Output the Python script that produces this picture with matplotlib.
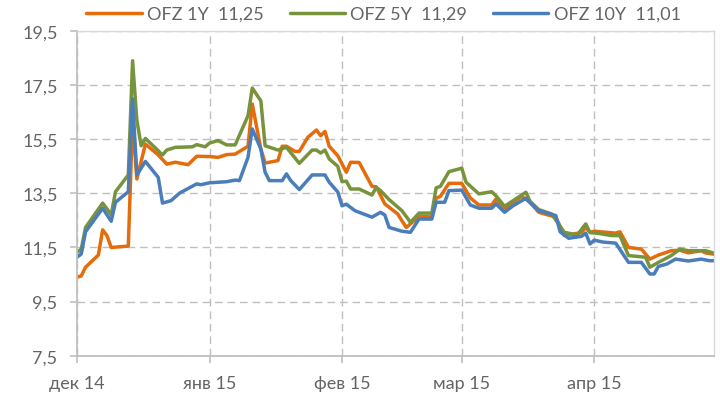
import pandas as pd
import matplotlib
matplotlib.use('Agg')
import matplotlib.pyplot as plt
from matplotlib.ticker import FuncFormatter

# OFZ 1Y yields
dates_1y = ['2014-12-01', '2014-12-02', '2014-12-03', '2014-12-06', '2014-12-07', '2014-12-08',
            '2014-12-09', '2014-12-13', '2014-12-14', '2014-12-15', '2014-12-17', '2014-12-20',
            '2014-12-22', '2014-12-24', '2014-12-27', '2014-12-29', '2015-01-01', '2015-01-03',
            '2015-01-05', '2015-01-07', '2015-01-10', '2015-01-11', '2015-01-13', '2015-01-14',
            '2015-01-17', '2015-01-18', '2015-01-19', '2015-01-21', '2015-01-22', '2015-01-24',
            '2015-01-26', '2015-01-27', '2015-01-28', '2015-01-29', '2015-01-31', '2015-02-02',
            '2015-02-03', '2015-02-05', '2015-02-08', '2015-02-09', '2015-02-11', '2015-02-14',
            '2015-02-16', '2015-02-19', '2015-02-22', '2015-02-23', '2015-02-24', '2015-02-26',
            '2015-03-01', '2015-03-03', '2015-03-05', '2015-03-08', '2015-03-09', '2015-03-11',
            '2015-03-15', '2015-03-17', '2015-03-19', '2015-03-23', '2015-03-25', '2015-03-29',
            '2015-03-30', '2015-03-31', '2015-04-01', '2015-04-06', '2015-04-07', '2015-04-09',
            '2015-04-12', '2015-04-14', '2015-04-16', '2015-04-19', '2015-04-21', '2015-04-23',
            '2015-04-26', '2015-04-27', '2015-04-29']
ofz_1y = [10.40, 10.45, 10.77, 11.22, 12.15, 11.94,
          11.50, 11.55, 16.20, 14.03, 15.32, 14.92,
          14.58, 14.65, 14.56, 14.87, 14.86, 14.83,
          14.93, 14.95, 15.24, 16.80, 15.14, 14.62,
          14.71, 15.24, 15.24, 15.05, 15.05, 15.57,
          15.84, 15.63, 15.79, 15.24, 14.89, 14.28,
          14.65, 14.64, 13.76, 13.74, 13.11, 12.74,
          12.24, 12.64, 12.64, 13.32, 13.39, 13.87,
          13.87, 13.33, 13.07, 13.07, 13.29, 12.92,
          13.39, 13.17, 12.80, 12.62, 11.94, 12.05,
          12.24, 12.06, 12.10, 12.03, 12.08, 11.50,
          11.44, 11.07, 11.22, 11.38, 11.40, 11.30,
          11.38, 11.30, 11.25]

# OFZ 5Y yields
dates_5y = ['2014-12-01', '2014-12-02', '2014-12-03', '2014-12-07', '2014-12-09', '2014-12-10',
            '2014-12-13', '2014-12-14', '2014-12-15', '2014-12-16', '2014-12-17', '2014-12-21',
            '2014-12-22', '2014-12-24', '2014-12-28', '2014-12-29', '2014-12-31', '2015-01-01',
            '2015-01-03', '2015-01-05', '2015-01-07', '2015-01-10', '2015-01-11', '2015-01-13',
            '2015-01-14', '2015-01-17', '2015-01-19', '2015-01-22', '2015-01-25', '2015-01-26',
            '2015-01-27', '2015-01-28', '2015-01-29', '2015-01-31', '2015-02-01', '2015-02-02',
            '2015-02-03', '2015-02-05', '2015-02-08', '2015-02-09', '2015-02-10', '2015-02-12',
            '2015-02-15', '2015-02-17', '2015-02-19', '2015-02-22', '2015-02-23', '2015-02-24',
            '2015-02-26', '2015-03-01', '2015-03-02', '2015-03-05', '2015-03-08', '2015-03-09',
            '2015-03-11', '2015-03-16', '2015-03-17', '2015-03-19', '2015-03-22', '2015-03-25',
            '2015-03-28', '2015-03-30', '2015-03-31', '2015-04-02', '2015-04-05', '2015-04-07',
            '2015-04-09', '2015-04-13', '2015-04-14', '2015-04-16', '2015-04-19', '2015-04-21',
            '2015-04-23', '2015-04-27', '2015-04-29']
ofz_5y = [11.32, 11.44, 12.24, 13.14, 12.71, 13.56,
          14.18, 18.40, 16.20, 15.26, 15.53, 14.92,
          15.10, 15.20, 15.22, 15.30, 15.22, 15.36,
          15.45, 15.29, 15.29, 16.37, 17.39, 16.92,
          15.26, 15.10, 15.20, 14.61, 15.10, 15.10,
          14.99, 15.10, 14.77, 14.50, 13.93, 13.95,
          13.66, 13.66, 13.44, 13.72, 13.60, 13.27,
          12.86, 12.43, 12.77, 12.77, 13.70, 13.76,
          14.30, 14.43, 13.91, 13.48, 13.56, 13.41,
          13.02, 13.54, 13.20, 12.90, 12.74, 12.06,
          11.96, 12.37, 12.05, 12.02, 11.94, 11.94,
          11.20, 11.14, 10.77, 10.95, 11.20, 11.44,
          11.38, 11.38, 11.29]

# OFZ 10Y yields
dates_10y = ['2014-12-01', '2014-12-02', '2014-12-03', '2014-12-07', '2014-12-09', '2014-12-10',
             '2014-12-13', '2014-12-14', '2014-12-15', '2014-12-17', '2014-12-20', '2014-12-21',
             '2014-12-23', '2014-12-25', '2014-12-29', '2014-12-30', '2015-01-01', '2015-01-05',
             '2015-01-07', '2015-01-08', '2015-01-10', '2015-01-11', '2015-01-13', '2015-01-14',
             '2015-01-15', '2015-01-18', '2015-01-19', '2015-01-20', '2015-01-22', '2015-01-25',
             '2015-01-28', '2015-01-29', '2015-01-31', '2015-02-01', '2015-02-02', '2015-02-04',
             '2015-02-08', '2015-02-10', '2015-02-11', '2015-02-12', '2015-02-15', '2015-02-17',
             '2015-02-19', '2015-02-22', '2015-02-23', '2015-02-25', '2015-02-26', '2015-03-01',
             '2015-03-03', '2015-03-05', '2015-03-08', '2015-03-09', '2015-03-11', '2015-03-13',
             '2015-03-16', '2015-03-17', '2015-03-19', '2015-03-23', '2015-03-24', '2015-03-26',
             '2015-03-29', '2015-03-30', '2015-03-31', '2015-04-01', '2015-04-03', '2015-04-06',
             '2015-04-09', '2015-04-12', '2015-04-14', '2015-04-15', '2015-04-16', '2015-04-18',
             '2015-04-20', '2015-04-23', '2015-04-26', '2015-04-28', '2015-04-29']
ofz_10y = [11.14, 11.26, 12.08, 12.95, 12.47, 13.17,
           13.56, 16.99, 14.18, 14.68, 14.09, 13.14,
           13.23, 13.51, 13.85, 13.82, 13.89, 13.93,
           13.99, 13.97, 14.83, 15.88, 15.14, 14.28,
           13.97, 13.97, 14.22, 13.97, 13.64, 14.18,
           14.18, 13.91, 13.55, 13.04, 13.10, 12.86,
           12.62, 12.80, 12.70, 12.24, 12.10, 12.06,
           12.55, 12.55, 13.17, 13.17, 13.60, 13.62,
           13.07, 12.95, 12.95, 13.11, 12.80, 13.04,
           13.32, 13.15, 12.86, 12.68, 12.08, 11.84,
           11.91, 12.03, 11.63, 11.77, 11.70, 11.66,
           10.95, 10.95, 10.52, 10.52, 10.80, 10.89,
           11.07, 11.00, 11.07, 11.01, 11.01]

series_labels = ['OFZ 1Y  11,25', 'OFZ 5Y  11,29', 'OFZ 10Y  11,01']
y_ticks = [7.5, 9.5, 11.5, 13.5, 15.5, 17.5, 19.5]
month_ticks = ['2014-12-01', '2015-01-01', '2015-02-01', '2015-03-01', '2015-04-01']
month_labels = ['дек 14', 'янв 15', 'фев 15', 'мар 15', 'апр 15']
x_range = ['2014-12-01', '2015-04-29']

colors = ['#E46C0A', '#77933C', '#4A7EBB']
text_color = '#646464'
grid_color = '#BFBFBF'

plt.rcParams['font.family'] = ['Lato', 'DejaVu Sans']

fig = plt.figure(figsize=(7.2, 4.06), dpi=100)
ax = fig.add_axes([77 / 720, 1 - 356.7 / 406, (714 - 77) / 720, (356.7 - 32) / 406])

all_dates = [dates_1y, dates_5y, dates_10y]
all_values = [ofz_1y, ofz_5y, ofz_10y]
for d, v, c, lab in zip(all_dates, all_values, colors, series_labels):
    ax.plot(pd.to_datetime(d), v, color=c, lw=2.5, label=lab,
            solid_joinstyle='round', solid_capstyle='round')

ax.set_ylim(y_ticks[0], y_ticks[-1])
ax.set_yticks(y_ticks)
ax.yaxis.set_major_formatter(FuncFormatter(lambda v, p: f'{v:.1f}'.replace('.', ',')))

ax.set_xlim(pd.to_datetime(x_range[0]), pd.to_datetime(x_range[1]))
ax.set_xticks(pd.to_datetime(month_ticks))
ax.set_xticklabels(month_labels)

ax.grid(True, color=grid_color, linestyle=(0, (5.5, 3.5)), linewidth=1.0)
ax.set_axisbelow(True)

for side in ['left', 'bottom']:
    ax.spines[side].set_color(grid_color)
    ax.spines[side].set_linewidth(1.3)
for side in ['top', 'right']:
    ax.spines[side].set_color('#D9D9D9')
    ax.spines[side].set_linewidth(1.0)

ax.tick_params(axis='both', colors=grid_color, labelcolor=text_color,
               labelsize=13, length=5, width=1.2)
ax.tick_params(axis='x', pad=9)
ax.tick_params(axis='y', pad=9)

fig.legend(loc='center left', bbox_to_anchor=(72 / 720, 1 - 15 / 406), ncol=3,
           frameon=False, fontsize=13, handlelength=3.05, handletextpad=0.3,
           columnspacing=1.45, labelcolor=text_color, borderpad=0.3)

fig.savefig('out.png', dpi=100)
